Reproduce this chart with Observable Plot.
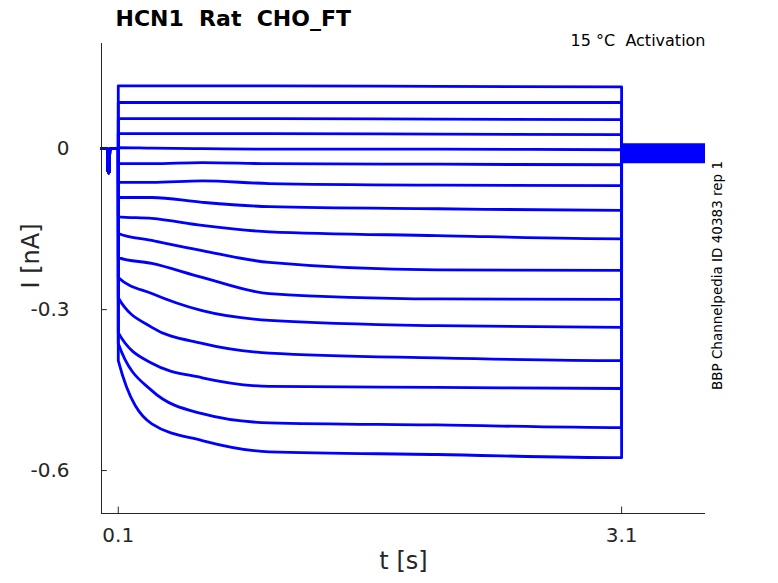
<!DOCTYPE html>
<html><head><meta charset="utf-8">
<script src="https://cdn.jsdelivr.net/npm/d3@7"></script>
<script src="https://cdn.jsdelivr.net/npm/@observablehq/plot@0.6"></script>
<style>body{margin:0;background:#fff;font-family:"DejaVu Sans",sans-serif}</style>
</head><body><div id="c"></div>
<script>
// times (s) at which each trace level was read
const times = [0.1, 0.3, 0.6, 1.0, 2.0, 3.1];
// current levels (nA) per trace
const traces = [
  [0.117,0.117,0.117,0.117,0.116,0.115],
  [0.086,0.086,0.086,0.086,0.086,0.086],
  [0.056,0.056,0.056,0.056,0.055,0.054],
  [0.028,0.028,0.028,0.028,0.027,0.026],
  [0.002,0.001,0.000,-0.001,-0.001,-0.002],
  [-0.028,-0.028,-0.026,-0.028,-0.029,-0.030],
  [-0.063,-0.063,-0.060,-0.065,-0.068,-0.069],
  [-0.091,-0.091,-0.100,-0.108,-0.112,-0.115],
  [-0.127,-0.130,-0.143,-0.155,-0.162,-0.168],
  [-0.158,-0.171,-0.190,-0.212,-0.226,-0.227],
  [-0.203,-0.214,-0.240,-0.270,-0.280,-0.281],
  [-0.240,-0.270,-0.302,-0.320,-0.330,-0.333],
  [-0.278,-0.333,-0.363,-0.381,-0.390,-0.395],
  [-0.343,-0.400,-0.427,-0.443,-0.445,-0.447],
  [-0.363,-0.451,-0.494,-0.511,-0.515,-0.520],
  [-0.395,-0.513,-0.544,-0.565,-0.570,-0.576]
];
// holding segment before step, with capacitive spike
const preT = [0, 0.035, 0.04, 0.045, 0.05, 0.1];
const preI = [0, 0, -0.045, -0.045, 0, 0];
// post-step noise band (nA)
const postT = [3.1, 3.6];
const postLo = [-0.028, -0.028];
const postHi = [0.009, 0.009];

const rows = [];
traces.forEach((tr, k) => {
  preT.forEach((t, i) => rows.push({k, t, i: preI[i]}));
  times.forEach((t, i) => rows.push({k, t, i: tr[i]}));
  rows.push({k, t: 3.1, i: 0});
});
const band = postT.map((t, i) => ({t, lo: postLo[i], hi: postHi[i]}));
const xTicks = [0.1, 3.1];
const yTicks = [0, -0.3, -0.6];
const blue = "#0000ff";

const chart = Plot.plot({
  width: 778, height: 583,
  marginLeft: 101, marginRight: 73, marginTop: 43, marginBottom: 70,
  style: {fontFamily: "DejaVu Sans, sans-serif", background: "#fff"},
  x: {domain: [0, 3.6], label: null},
  y: {domain: [-0.68, 0.196], label: null},
  marks: [
    Plot.axisX({ticks: xTicks, tickFormat: d => d.toFixed(1), tickSize: 0, tickPadding: 14, fontSize: 20, fill: "#262626", label: null}),
    Plot.axisY({ticks: yTicks, tickFormat: d => d === 0 ? "0" : d.toFixed(1), tickSize: 0, tickPadding: 32, fontSize: 20, fill: "#262626", label: null}),
    Plot.areaY(band, {x: "t", y1: "lo", y2: "hi", fill: blue}),
    Plot.line(rows, {x: "t", y: "i", z: "k", stroke: blue, strokeWidth: 2.8, curve: "monotone-x"}),
    Plot.ruleX([0], {stroke: "#262626", strokeWidth: 1}),
    Plot.ruleY([-0.68], {stroke: "#262626", strokeWidth: 1}),
    Plot.ruleY(yTicks, {x1: 0, x2: 0.035, stroke: "#262626"}),
    Plot.ruleX(xTicks, {y1: -0.68, y2: -0.668, stroke: "#262626"}),
    Plot.text(["HCN1  Rat  CHO_FT"], {frameAnchor: "top-left", dx: 14, dy: -33, fontSize: 22, fontWeight: "bold", textAnchor: "start", fill: "#000"}),
    Plot.text(["15 °C  Activation"], {frameAnchor: "top-right", dx: 0, dy: -9, fontSize: 16, textAnchor: "end", fill: "#000"}),
    Plot.text(["t [s]"], {frameAnchor: "bottom", dy: 55, fontSize: 24, fill: "#262626"}),
    Plot.text(["I [nA]"], {frameAnchor: "left", dx: -70, dy: 10, rotate: -90, fontSize: 24, fill: "#262626"}),
    Plot.text(["BBP Channelpedia ID 40383 rep 1"], {frameAnchor: "right", dx: 12, dy: -3, rotate: -90, textAnchor: "middle", fontSize: 13.5, fill: "#000"})
  ]
});
document.getElementById("c").appendChild(chart);
</script></body></html>
